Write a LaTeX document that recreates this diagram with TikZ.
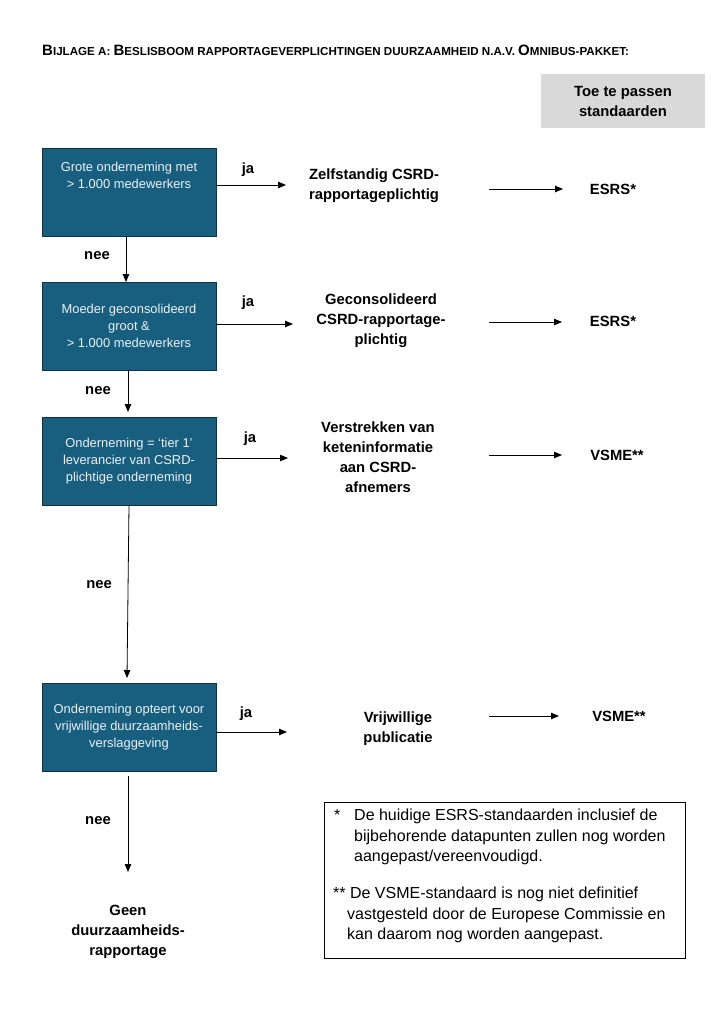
\documentclass[tikz,border=0pt]{standalone}
\usepackage{fontspec}
\setmainfont{Liberation Sans}
\usetikzlibrary{arrows.meta,calc}
\definecolor{boxblue}{RGB}{23,94,127}
\definecolor{boxline}{RGB}{14,52,72}
\definecolor{greybox}{RGB}{217,217,217}
\definecolor{boxtext}{RGB}{236,241,244}
\newcommand\capbig[1]{{\fontsize{15}{17}\selectfont #1}}
\begin{document}
\begin{tikzpicture}[x=1pt,y=-1pt,
  qbox/.style={draw=boxline, line width=0.8pt, fill=boxblue, minimum width=174pt, minimum height=88pt, inner sep=0pt},
  qtext/.style={text=boxtext, font=\fontsize{12.9}{17}\selectfont, align=center, inner sep=0pt},
  res/.style={font=\bfseries\fontsize{14.8}{20}\selectfont, align=center, inner sep=0pt},
  lab/.style={font=\bfseries\fontsize{14.8}{17}\selectfont, inner sep=0pt},
  arr/.style={-{Triangle[length=8pt,width=6.5pt]}, line width=0.8pt},
  note/.style={font=\fontsize{16}{20.5}\selectfont, align=left, inner sep=0pt, anchor=north west}]
\useasboundingbox (0,0) rectangle (726,1009);
\fill[white] (0,0) rectangle (726,1009);

% title
\node[anchor=west, inner sep=0pt, font=\bfseries\fontsize{11.6}{14}\selectfont] (title) at (42,50)
  {\capbig{B}IJLAGE A: \capbig{B}ESLISBOOM RAPPORTAGEVERPLICHTINGEN DUURZAAMHEID N.A.V. \capbig{O}MNIBUS-PAKKET:};

% header
\node[fill=greybox, minimum width=164pt, minimum height=54pt, align=center, font=\bfseries\fontsize{14.8}{20}\selectfont] (hdr) at (623,101) {Toe te passen\\standaarden};

% question boxes
\node[qbox] (q1) at (129,192) {};
\node[qtext] (q1t) at (129,175.5) {Grote onderneming met\\> 1.000 medewerkers};
\node[qbox] (q2) at (129,326) {};
\node[qtext] (q2t) at (129,326) {Moeder geconsolideerd\\groot \&\\> 1.000 medewerkers};
\node[qbox] (q3) at (129,461) {};
\node[qtext] (q3t) at (129,461) {Onderneming = ‘tier 1’\\leverancier van CSRD-\\plichtige onderneming};
\node[qbox] (q4) at (129,727) {};
\node[qtext] (q4t) at (129,727) {Onderneming opteert voor\\vrijwillige duurzaamheids-\\verslaggeving};

% results
\node[res] (r1) at (374,186) {Zelfstandig CSRD-\\rapportageplichtig};
\node[res] (r2) at (381,321) {Geconsolideerd\\CSRD-rapportage-\\plichtig};
\node[res] (r3) at (378,457) {Verstrekken van\\keteninformatie\\aan CSRD-\\afnemers};
\node[res] (r4) at (398,729) {Vrijwillige\\publicatie};
\node[res] (r5) at (128,932) {Geen\\duurzaamheids-\\rapportage};

% standards
\node[lab] (s1) at (613,189) {ESRS*};
\node[lab] (s2) at (613,321) {ESRS*};
\node[lab] (s3) at (617,455) {VSME**};
\node[lab] (s4) at (619,716) {VSME**};

% ja arrows
\coordinate (j1) at (286,185);
\coordinate (j2) at (293,324);
\coordinate (j3) at (288,458);
\coordinate (j4) at (287,732);
\draw[arr] (q1.east |- j1) -- (j1);
\draw[arr] (q2.east |- j2) -- (j2);
\draw[arr] (q3.east |- j3) -- (j3);
\draw[arr] (q4.east |- j4) -- (j4);
\node[lab] (ja1) at (248,170) {ja};
\node[lab] (ja2) at (248,303) {ja};
\node[lab] (ja3) at (250,439) {ja};
\node[lab] (ja4) at (246,714) {ja};

% result -> standard arrows
\coordinate (a1) at (489,189); \coordinate (b1) at (563,189);
\coordinate (a2) at (489,322); \coordinate (b2) at (562,322);
\coordinate (a3) at (489,455); \coordinate (b3) at (562,455);
\coordinate (a4) at (489,716); \coordinate (b4) at (559,716);
\draw[arr] (a1) -- (b1);
\draw[arr] (a2) -- (b2);
\draw[arr] (a3) -- (b3);
\draw[arr] (a4) -- (b4);

% nee arrows
\coordinate (d1) at (126,282);
\coordinate (d2) at (128,412);
\coordinate (d3) at (127,678);
\coordinate (d4a) at (128,776);
\coordinate (d4) at (128,872);
\draw[arr] (q1.south -| d1) -- (d1);
\draw[arr] (q2.south -| d2) -- (d2);
\draw[arr] (q3.south -| 129,0) -- (d3);
\draw[arr] (d4a) -- (d4);
\node[lab] (n1) at (97,256) {nee};
\node[lab] (n2) at (98,391) {nee};
\node[lab] (n3) at (99,585) {nee};
\node[lab] (n4) at (98,821) {nee};

% footnote box
\node[draw, line width=0.8pt, minimum width=361pt, minimum height=156pt, anchor=north west, inner sep=0pt] (fn) at (324,802) {};
\node[note] (fs1) at (334,809) {*};
\node[note] (f1) at (354,809) {De huidige ESRS-standaarden inclusief de\\bijbehorende datapunten zullen nog worden\\aangepast/vereenvoudigd.};
\node[note] (f2) at (333,887) {** De VSME-standaard is nog niet definitief\\\hspace*{14pt}vastgesteld door de Europese Commissie en\\\hspace*{14pt}kan daarom nog worden aangepast.};
\end{tikzpicture}
\end{document}
